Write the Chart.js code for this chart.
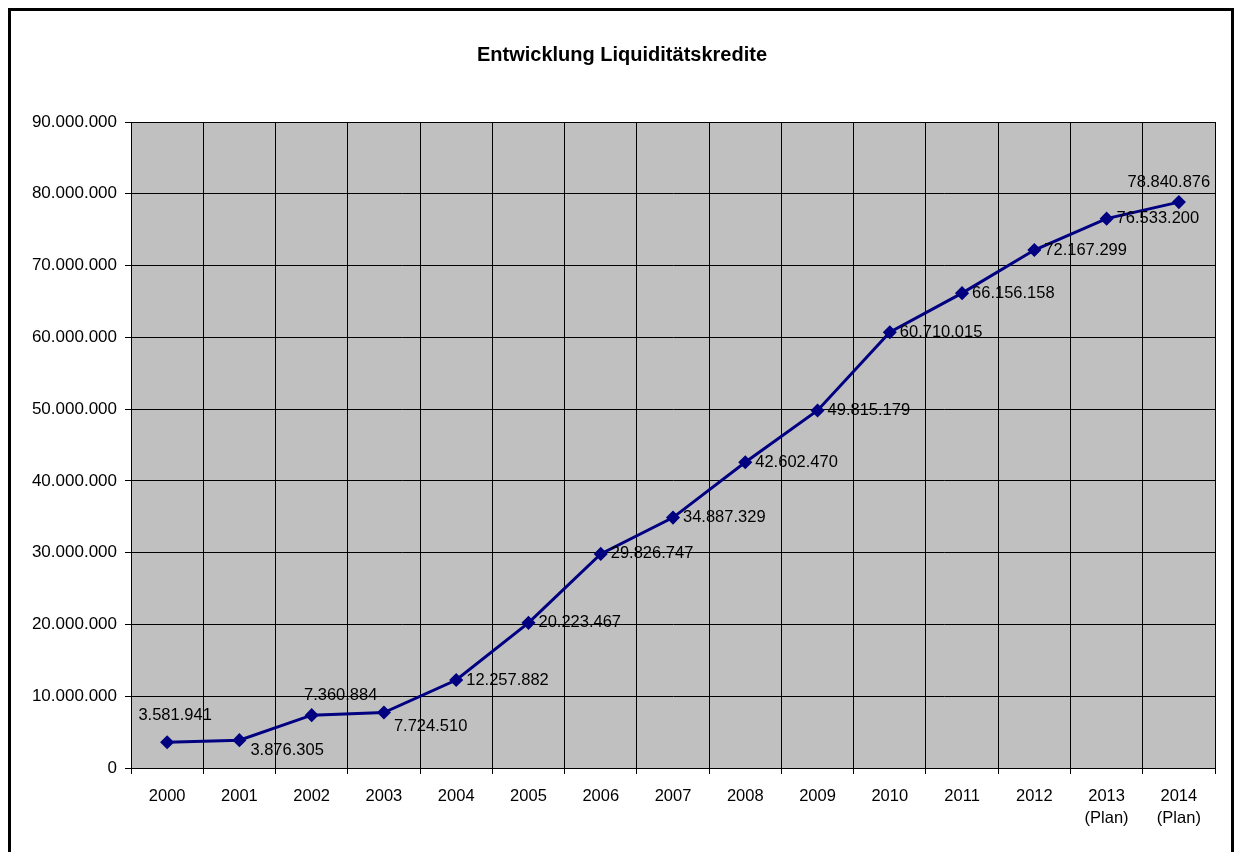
<!DOCTYPE html>
<html>
<head>
<meta charset="utf-8">
<script src="https://cdn.jsdelivr.net/npm/chart.js@4/dist/chart.umd.min.js"></script>
<style>
html,body{margin:0;padding:0;background:#fff;}
#wrap{position:absolute;left:0;top:0;width:1234px;height:852px;}
</style>
</head>
<body>
<div id="wrap"><canvas id="c" width="1234" height="852"></canvas></div>
<script>
const chartTitle = 'Entwicklung Liquiditätskredite';
const categories = [['2000'],['2001'],['2002'],['2003'],['2004'],['2005'],['2006'],['2007'],['2008'],['2009'],['2010'],['2011'],['2012'],['2013','(Plan)'],['2014','(Plan)']];
const values = [3581941, 3876305, 7360884, 7724510, 12257882, 20223467, 29826747, 34887329, 42602470, 49815179, 60710015, 66156158, 72167299, 76533200, 78840876];
const yTicks = [0, 10000000, 20000000, 30000000, 40000000, 50000000, 60000000, 70000000, 80000000, 90000000];

// label placement per point: [dx, dy, align]
const labelPlacement = [
  [8, -27, 'center'], [11, 10, 'left'], [29, -20, 'center'], [10, 14, 'left'],
  [10, 0, 'left'], [10, 0, 'left'], [10, 0, 'left'], [10, 0, 'left'], [10, 0, 'left'],
  [10, 0, 'left'], [10, 0, 'left'], [10, 0, 'left'], [10, 0, 'left'], [10, 0, 'left'],
  [-10, -20, 'center']
];

function fmt(v){ return String(Math.round(v)).replace(/\B(?=(\d{3})+(?!\d))/g, '.'); }

const FONT = '"Liberation Sans", Arial, sans-serif';

const decor = {
  id: 'decor',
  beforeDraw(chart){
    const ctx = chart.ctx;
    ctx.save();
    ctx.fillStyle = '#ffffff';
    ctx.fillRect(0,0,chart.width,chart.height);
    const a = chart.chartArea;
    ctx.fillStyle = '#c0c0c0';
    ctx.fillRect(a.left, a.top, a.right-a.left, a.bottom-a.top);
    ctx.restore();
  },
  afterDraw(chart){
    const ctx = chart.ctx;
    ctx.save();
    // outer frame
    ctx.strokeStyle = '#000';
    ctx.lineWidth = 3;
    ctx.strokeRect(9.5, 9.5, 1234 - 9.5 - 1.5, 900);
    // title
    ctx.fillStyle = '#000';
    ctx.font = 'bold 20px ' + FONT;
    ctx.textAlign = 'center';
    ctx.textBaseline = 'middle';
    ctx.fillText(chartTitle, 622, 55);
    // plot border
    const a = chart.chartArea;
    ctx.lineWidth = 1;
    ctx.strokeRect(Math.round(a.left)+0.5, Math.round(a.top)+0.5, Math.round(a.right-a.left), Math.round(a.bottom-a.top));
    ctx.restore();
  },
  afterDatasetsDraw(chart){
    const ctx = chart.ctx;
    const meta = chart.getDatasetMeta(0);
    ctx.save();
    ctx.fillStyle = '#000';
    ctx.font = '16.5px ' + FONT;
    ctx.textBaseline = 'middle';
    meta.data.forEach((pt, i) => {
      const p = labelPlacement[i];
      ctx.textAlign = p[2];
      ctx.fillText(fmt(values[i]), pt.x + p[0], pt.y + p[1]);
    });
    ctx.restore();
  }
};

new Chart(document.getElementById('c'), {
  type: 'line',
  data: {
    labels: categories,
    datasets: [{
      data: values,
      borderColor: '#000080',
      backgroundColor: '#000080',
      borderWidth: 3,
      pointStyle: 'rectRot',
      pointRadius: 6,
      pointBorderWidth: 1.5,
      pointBackgroundColor: '#000080',
      pointBorderColor: '#000080',
      tension: 0,
      fill: false
    }]
  },
  options: {
    responsive: false,
    animation: false,
    layout: { padding: { left: 0, top: 122, right: 19, bottom: 0 } },
    plugins: { legend: { display: false }, title: { display: false }, tooltip: { enabled: false } },
    scales: {
      x: {
        offset: true,
        grid: { offset: true, color: '#000', lineWidth: 1, tickLength: 6, drawTicks: true },
        border: { color: '#000' },
        ticks: { color: '#000', font: { family: FONT, size: 16.5, lineHeight: 1.3 }, autoSkip: false, maxRotation: 0, padding: 12 },
        afterFit(s){ s.height = 84; }
      },
      y: {
        min: 0, max: 90000000,
        afterBuildTicks(s){ s.ticks = yTicks.map(v => ({ value: v })); },
        grid: { color: '#000', lineWidth: 1, tickLength: 6 },
        border: { color: '#000' },
        ticks: { color: '#000', font: { family: FONT, size: 17 }, padding: 8, callback: v => fmt(v) },
        afterFit(s){ s.width = 131; }
      }
    }
  },
  plugins: [decor]
});
</script>
</body>
</html>
